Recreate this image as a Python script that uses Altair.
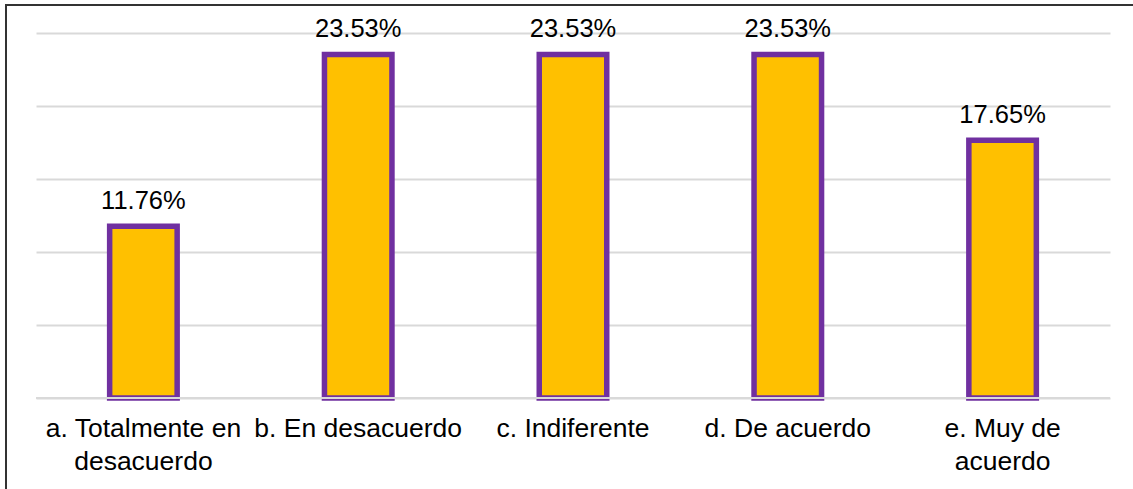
import altair as alt
import pandas as pd

categories = [
    "a. Totalmente en desacuerdo",
    "b. En desacuerdo",
    "c. Indiferente",
    "d. De acuerdo",
    "e. Muy de acuerdo",
]
label_lines = [
    ["a. Totalmente en", "desacuerdo"],
    ["b. En desacuerdo"],
    ["c. Indiferente"],
    ["d. De acuerdo"],
    ["e. Muy de", "acuerdo"],
]
values = [0.1176, 0.2353, 0.2353, 0.2353, 0.1765]
value_labels = ["11.76%", "23.53%", "23.53%", "23.53%", "17.65%"]
grid_values = [0, 0.05, 0.10, 0.15, 0.20, 0.25]

df = pd.DataFrame({"cat": categories, "val": values, "lab": value_labels})

# label expression for wrapped axis labels
parts = []
for c, lines in zip(categories, label_lines):
    arr = "[" + ",".join("'" + l + "'" for l in lines) + "]"
    parts.append(f"datum.value == '{c}' ? {arr}")
label_expr = " : ".join(parts) + " : datum.value"

FONT = "Liberation Sans"
W, H = 1074, 365

x_enc = alt.X(
    "cat:N",
    sort=categories,
    scale=alt.Scale(paddingInner=0, paddingOuter=0),
    axis=alt.Axis(
        title=None, domain=False, ticks=False, labelAngle=0,
        labelExpr=label_expr, labelFont=FONT, labelFontSize=26.5,
        labelColor="#000000", labelPadding=17, labelLineHeight=33,
        labelBaseline="top", labelLimit=400, labelOverlap=False,
    ),
)
y_scale = alt.Scale(domain=[0, 0.25], nice=False)
y_enc = alt.Y(
    "val:Q",
    scale=y_scale,
    axis=alt.Axis(
        title=None, labels=False, ticks=False, domain=False,
        values=grid_values, grid=True, gridColor="#D9D9D9", gridWidth=2,
    ),
)

base = alt.Chart(df)
bars = base.mark_bar(
    size=67.5, fill="#FFC000", stroke="#7030A0", strokeWidth=5.5
).encode(x=x_enc, y=y_enc)

texts = base.mark_text(
    font=FONT, fontSize=25.5, color="#000000", baseline="alphabetic", dy=-17
).encode(x=alt.X("cat:N", sort=categories), y=alt.Y("val:Q"), text="lab:N")

baseline = alt.Chart(pd.DataFrame({"z": [0]})).mark_rule(
    color="#D9D9D9", strokeWidth=2
).encode(y=alt.Y("z:Q", scale=y_scale), x=alt.value(0), x2=alt.value(W))

border_top = alt.Chart(pd.DataFrame({"z": [0]})).mark_rule(
    color="#333333", strokeWidth=2
).encode(x=alt.value(-30), x2=alt.value(1130), y=alt.value(-28))
border_left = alt.Chart(pd.DataFrame({"z": [0]})).mark_rule(
    color="#333333", strokeWidth=2
).encode(x=alt.value(-30), y=alt.value(-29), y2=alt.value(470))

chart = alt.layer(bars, texts, baseline, border_top, border_left).properties(
    width=W, height=H,
    autosize=alt.AutoSizeParams(type="none"),
    padding={"left": 36, "top": 33, "right": 23, "bottom": 91},
    background="#FFFFFF",
).configure_view(stroke=None)

chart.save("out.html", embed_options={"renderer": "svg", "actions": False})
